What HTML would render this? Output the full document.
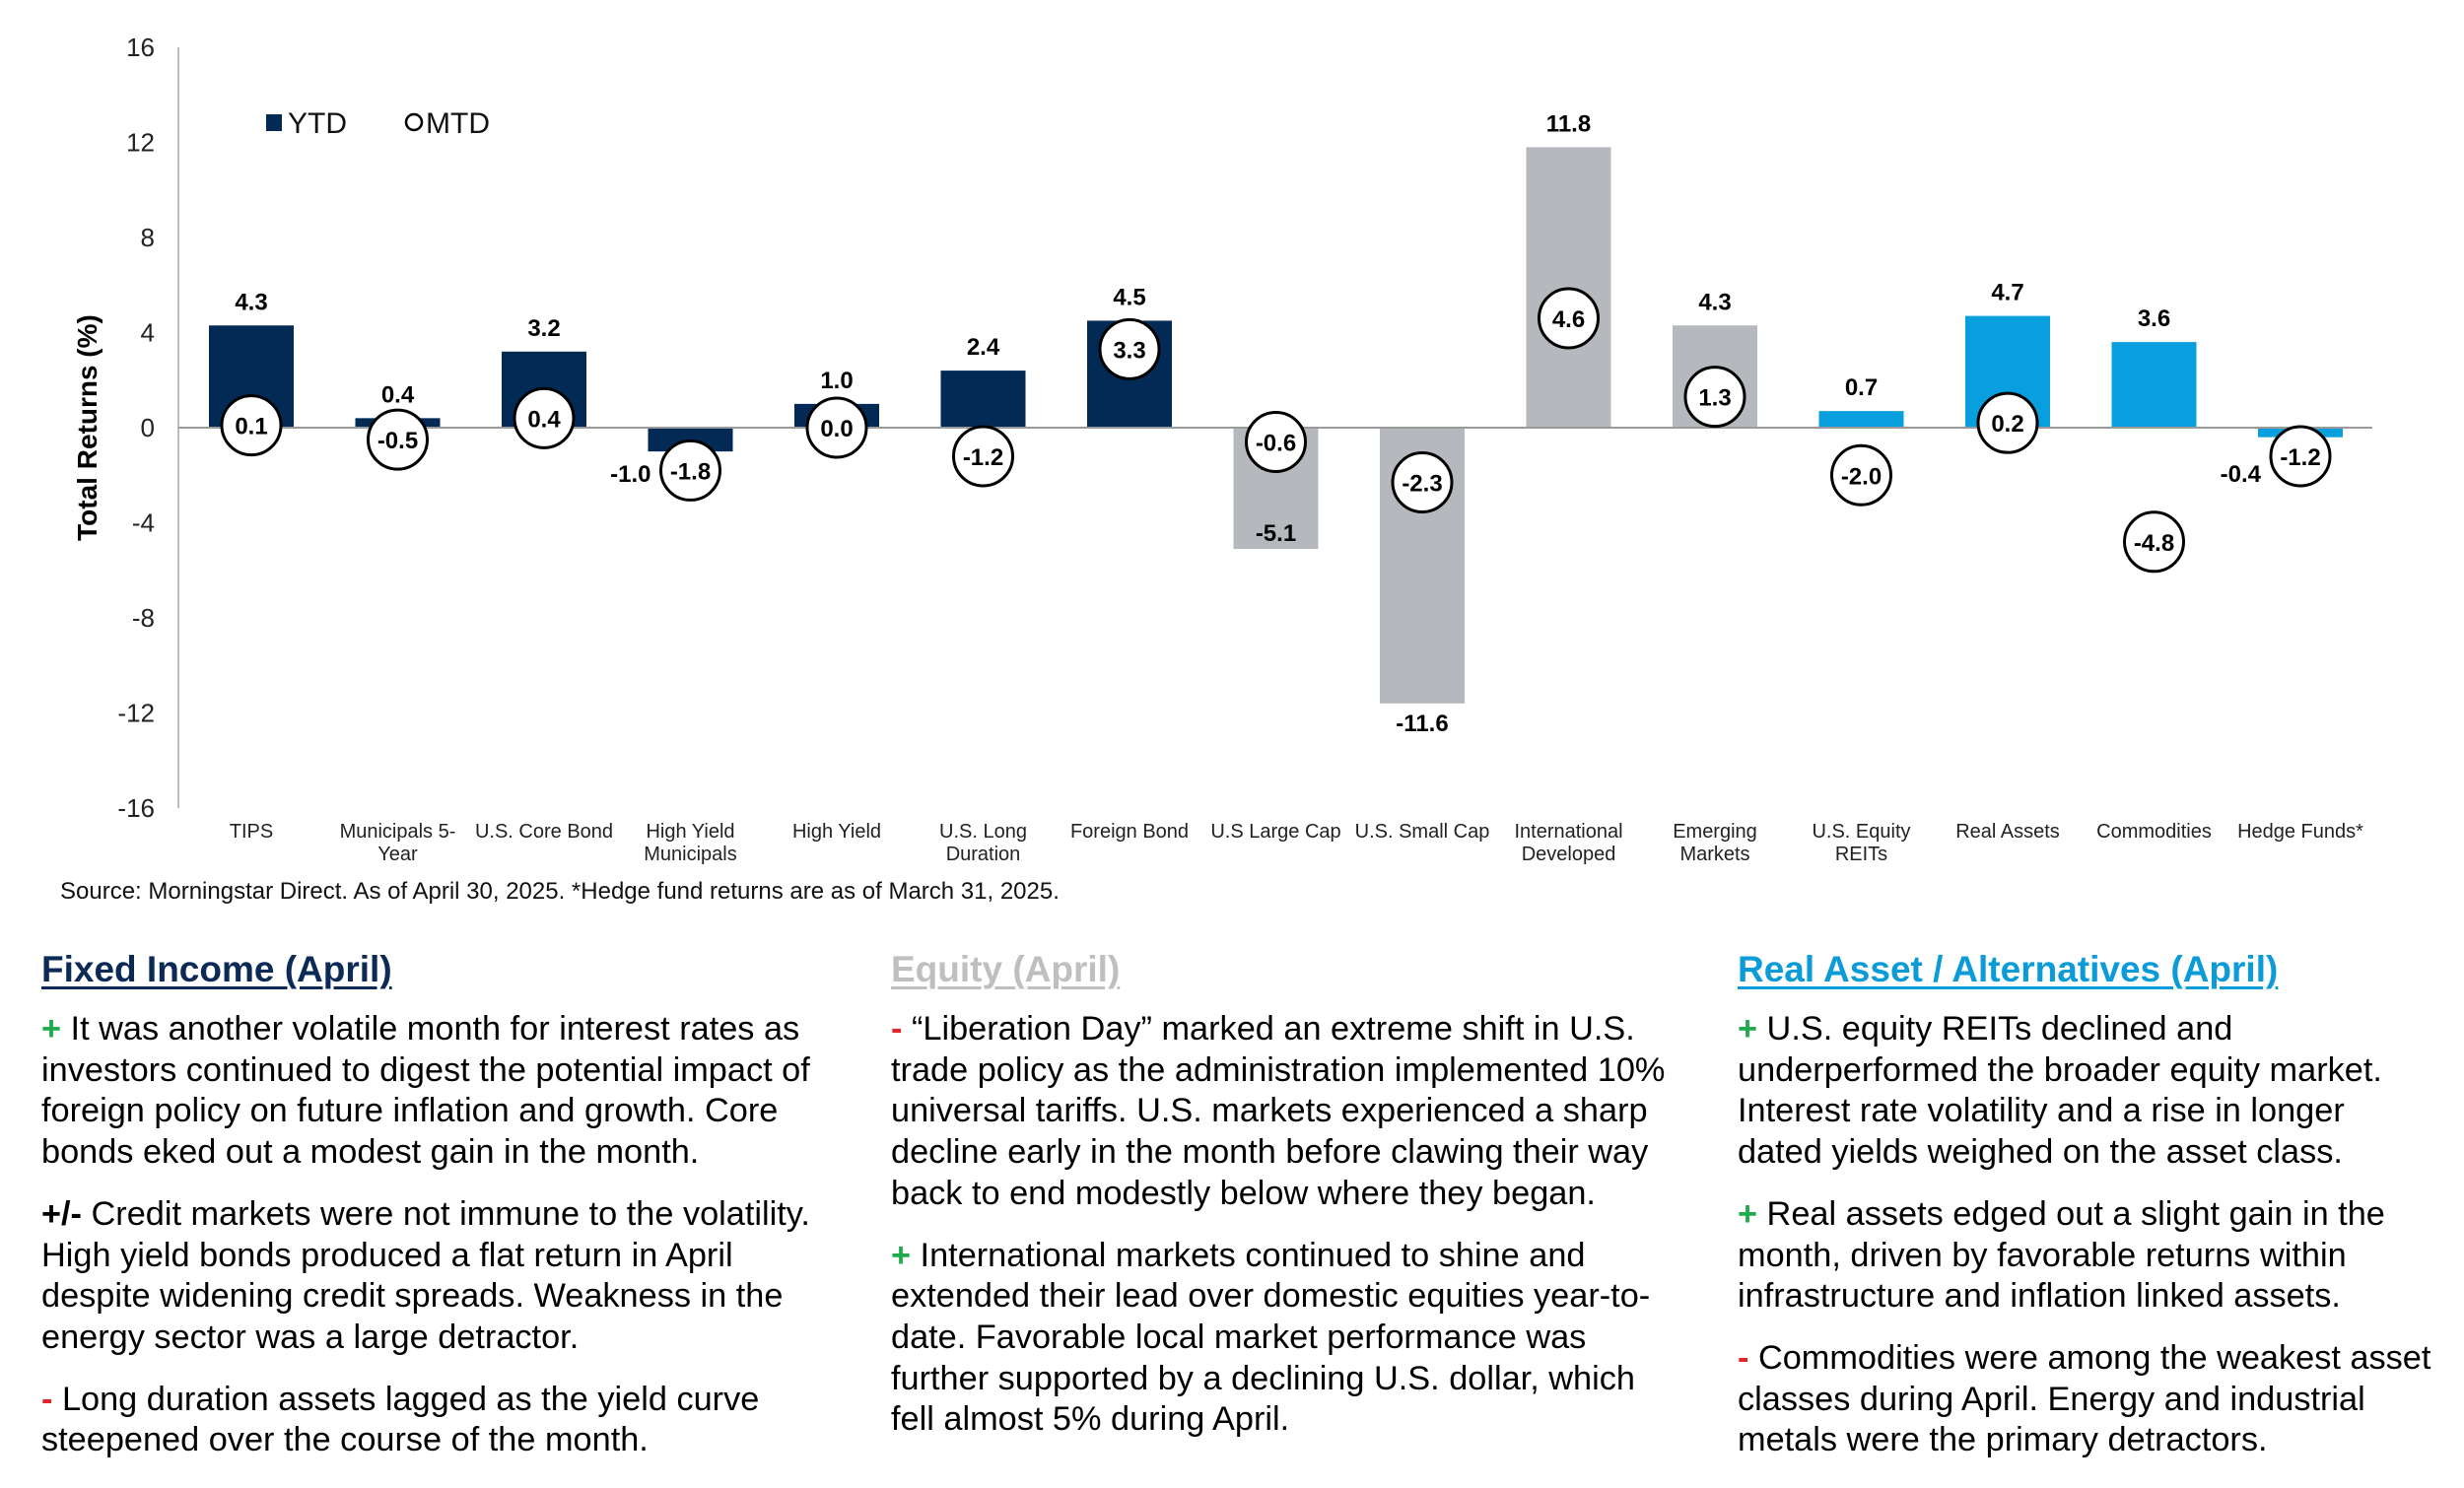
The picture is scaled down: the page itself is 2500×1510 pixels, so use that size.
<!DOCTYPE html>
<html><head><meta charset="utf-8">
<style>
html,body{margin:0;padding:0;background:#fff;}
body{width:2500px;height:1510px;position:relative;overflow:hidden;font-family:"Liberation Sans",Arial,sans-serif;}
svg{position:absolute;left:0;top:0;}
.col{position:absolute;top:956px;width:810px;color:#000;}
.col h2{margin:0 0 12px 0;font-size:37px;font-weight:bold;text-decoration:underline;text-decoration-thickness:3px;text-underline-offset:5px;line-height:56px;}
.col p{margin:0 0 21px 0;font-size:34.3px;line-height:41.7px;}
.g{color:#1faa4b;font-weight:bold;}
.r{color:#e0262a;font-weight:bold;}
</style></head>
<body>
<svg id="chart" width="2500" height="930" xmlns="http://www.w3.org/2000/svg"></svg>
<div class="col" style="left:42px">
<h2 style="color:#0b2a56">Fixed Income (April)</h2>
<p><span class="g">+</span> It was another volatile month for interest rates as investors continued to digest the potential impact of foreign policy on future inflation and growth. Core bonds eked out a modest gain in the month.</p>
<p><b>+/-</b> Credit markets were not immune to the volatility. High yield bonds produced a flat return in April despite widening credit spreads. Weakness in the energy sector was a large detractor.</p>
<p><span class="r">-</span> Long duration assets lagged as the yield curve steepened over the course of the month.</p>
</div>
<div class="col" style="left:904px;width:800px">
<h2 style="color:#bfbfbf">Equity (April)</h2>
<p><span class="r">-</span> “Liberation Day” marked an extreme shift in U.S. trade policy as the administration implemented 10% universal tariffs. U.S. markets experienced a sharp decline early in the month before clawing their way back to end modestly below where they began.</p>
<p><span class="g">+</span> International markets continued to shine and extended their lead over domestic equities year-to-date. Favorable local market performance was further supported by a declining U.S. dollar, which fell almost 5% during April.</p>
</div>
<div class="col" style="left:1763px;width:700px">
<h2 style="color:#0a9bd8;white-space:nowrap">Real Asset / Alternatives (April)</h2>
<p><span class="g">+</span> U.S. equity REITs declined and underperformed the broader equity market. Interest rate volatility and a rise in longer dated yields weighed on the asset class.</p>
<p><span class="g">+</span> Real assets edged out a slight gain in the month, driven by favorable returns within infrastructure and inflation linked assets.</p>
<p style="width:740px"><span class="r">-</span> Commodities were among the weakest asset classes during April. Energy and industrial metals were the primary detractors.</p>
</div>
<script>
const categories = [["TIPS"],["Municipals 5-","Year"],["U.S. Core Bond"],["High Yield","Municipals"],["High Yield"],["U.S. Long","Duration"],["Foreign Bond"],["U.S Large Cap"],["U.S. Small Cap"],["International","Developed"],["Emerging","Markets"],["U.S. Equity","REITs"],["Real Assets"],["Commodities"],["Hedge Funds*"]];
const ytd = [4.3,0.4,3.2,-1.0,1.0,2.4,4.5,-5.1,-11.6,11.8,4.3,0.7,4.7,3.6,-0.4];
const mtd = [0.1,-0.5,0.4,-1.8,0.0,-1.2,3.3,-0.6,-2.3,4.6,1.3,-2.0,0.2,-4.8,-1.2];
const groups = ["fixed","fixed","fixed","fixed","fixed","fixed","fixed","equity","equity","equity","equity","real","real","real","real"];
const yTicks = [16,12,8,4,0,-4,-8,-12,-16];

const NS="http://www.w3.org/2000/svg";
const svg=document.getElementById('chart');
const colors={fixed:"#032a55",equity:"#b5b8bc",real:"#079fdd"};
const yMin=-16,yMax=16,plotTop=48,plotBot=820;
function y(v){return plotTop+(yMax-v)/(yMax-yMin)*(plotBot-plotTop);}
const x0=181,step=148.5,first=255;
function x(i){return first+i*step;}
function mk(t,a,txt){const e=document.createElementNS(NS,t);for(const k in a)e.setAttribute(k,a[k]);if(txt!==undefined)e.textContent=txt;svg.appendChild(e);return e;}

let e;
e=mk('line',{x1:x0,y1:plotTop,x2:x0,y2:plotBot,stroke:"#bdbdbd","stroke-width":2});


yTicks.forEach(t=>{
  const el=mk('text',{x:157,y:y(t)+9,"text-anchor":"end","font-size":26,fill:"#222"},String(t));
  
  
});
e=mk('text',{x:0,y:0,transform:"translate(98,"+y(0)+") rotate(-90)","text-anchor":"middle","font-size":28,"font-weight":"bold"},"Total Returns (%)");



const bw=86;
ytd.forEach((v,i)=>{
  const yt=Math.min(y(v),y(0)),h=Math.abs(y(v)-y(0));
  const el=mk('rect',{x:x(i)-bw/2,y:yt,width:bw,height:h,fill:colors[groups[i]]});
  
  
});
e=mk('line',{x1:x0,y1:y(0),x2:2407,y2:y(0),stroke:"#9a9a9a","stroke-width":2});



ytd.forEach((v,i)=>{
  let lx=x(i),ly,anchor="middle";
  if(v>=0){ly=y(v)-16;}
  else if(v>-2){lx=x(i)-40;ly=y(0)+55;anchor="end";}
  else if(v>-8){ly=y(v)-8;}
  else{ly=y(v)+28;}
  const el=mk('text',{x:lx,y:ly,"text-anchor":anchor,"font-size":24,"font-weight":"bold"},v.toFixed(1));
  
  
});
mtd.forEach((v,i)=>{
  const c=mk('circle',{cx:x(i),cy:y(v),r:30,fill:"#fff",stroke:"#000","stroke-width":3});
  
  
  const t=mk('text',{x:x(i),y:y(v)+9,"text-anchor":"middle","font-size":24,"font-weight":"bold"},v.toFixed(1));
  
  
});
categories.forEach((c,i)=>{
  c.forEach((ln,j)=>{
    const el=mk('text',{x:x(i),y:850+j*23,"text-anchor":"middle","font-size":20,fill:"#222"},ln);
    
    
  });
});
e=mk('rect',{x:270,y:116,width:16,height:17,fill:"#032a55"});


e=mk('text',{x:292,y:135,"font-size":30,fill:"#111"},"YTD");


e=mk('circle',{cx:420,cy:124,r:8,fill:"none",stroke:"#000","stroke-width":2.5});


e=mk('text',{x:432,y:135,"font-size":30,fill:"#111"},"MTD");


e=mk('text',{x:61,y:912,"font-size":24,fill:"#111"},"Source: Morningstar Direct. As of April 30, 2025. *Hedge fund returns are as of March 31, 2025.");


</script>
</body></html>
